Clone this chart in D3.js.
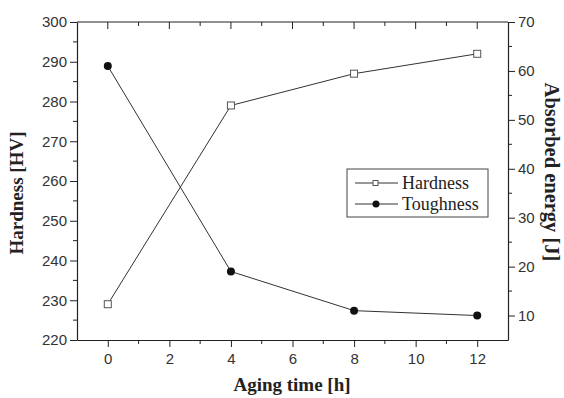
<!DOCTYPE html>
<html>
<head>
<meta charset="utf-8">
<script src="https://cdn.jsdelivr.net/npm/d3@7"></script>
<style>
  body { margin: 0; background: #fff; }
  svg { display: block; }
  .tick text { font-family: "Liberation Sans", Arial, sans-serif; font-size: 15px; fill: #333; }
  .title { font-family: "Liberation Serif", "Times New Roman", serif; font-weight: bold; font-size: 19px; fill: #222; }
  .leg { font-family: "Liberation Serif", "Times New Roman", serif; font-size: 18px; fill: #222; }
</style>
</head>
<body>
<svg width="564" height="398"></svg>
<script>
// data
var agingTime = [0, 4, 8, 12];
var hardness  = [229, 279, 287, 292];
var toughness = [61, 19, 11, 10];
var xTicks = [0, 2, 4, 6, 8, 10, 12];

var svg = d3.select("svg");
var pLeft = 77, pRight = 508, pTop = 22, pBottom = 340;

var x = d3.scaleLinear().domain([-1, 13]).range([pLeft, pRight]);
var yL = d3.scaleLinear().domain([220, 300]).range([pBottom, pTop]);
var yR = d3.scaleLinear().domain([5, 70]).range([pBottom, pTop]);

// minor ticks first
var minor = svg.append("g").attr("stroke", "#222").attr("stroke-width", 1);
d3.range(0, 13, 1).forEach(function(v) {
  var big = v % 2 == 0;
  minor.append("line").attr("x1", x(v)).attr("x2", x(v))
    .attr("y1", pBottom).attr("y2", pBottom + (big ? 0 : 4));
  minor.append("line").attr("x1", x(v)).attr("x2", x(v))
    .attr("y1", pTop).attr("y2", pTop + (big ? 7 : 4));
});
d3.range(225, 300, 10).forEach(function(v) {
  minor.append("line").attr("x1", pLeft - 4).attr("x2", pLeft)
    .attr("y1", yL(v)).attr("y2", yL(v));
});
d3.range(15, 70, 10).forEach(function(v) {
  minor.append("line").attr("x1", pRight).attr("x2", pRight + 4)
    .attr("y1", yR(v)).attr("y2", yR(v));
});

svg.append("g").attr("transform", "translate(0," + pBottom + ")")
  .call(d3.axisBottom(x).tickValues(xTicks).tickSize(7).tickPadding(6).tickSizeOuter(0));
svg.append("g").attr("transform", "translate(" + pLeft + ",0)")
  .call(d3.axisLeft(yL).ticks(8).tickSize(7).tickPadding(3).tickSizeOuter(0));
svg.append("g").attr("transform", "translate(" + pRight + ",0)")
  .call(d3.axisRight(yR).tickValues([10, 20, 30, 40, 50, 60, 70]).tickSize(7).tickPadding(3).tickSizeOuter(0));
svg.append("line").attr("x1", pLeft).attr("x2", pRight).attr("y1", pTop).attr("y2", pTop)
  .attr("stroke", "#222").attr("stroke-width", 1.2);
svg.selectAll(".domain").attr("stroke", "#222").attr("stroke-width", 1.2);
svg.selectAll(".tick line").attr("stroke", "#222");

// hardness
svg.append("path").datum(agingTime)
  .attr("fill", "none").attr("stroke", "#333").attr("stroke-width", 1)
  .attr("d", d3.line().x(function(d) { return x(d); }).y(function(d, i) { return yL(hardness[i]); }));
svg.selectAll(".sq").data(agingTime).enter().append("rect")
  .attr("x", function(d) { return x(d) - 3.5; })
  .attr("y", function(d, i) { return yL(hardness[i]) - 3.5; })
  .attr("width", 7).attr("height", 7)
  .attr("fill", "#fff").attr("stroke", "#555").attr("stroke-width", 1);

// toughness
svg.append("path").datum(agingTime)
  .attr("fill", "none").attr("stroke", "#333").attr("stroke-width", 1)
  .attr("d", d3.line().x(function(d) { return x(d); }).y(function(d, i) { return yR(toughness[i]); }));
svg.selectAll(".dot").data(agingTime).enter().append("circle")
  .attr("cx", function(d) { return x(d); })
  .attr("cy", function(d, i) { return yR(toughness[i]); })
  .attr("r", 4).attr("fill", "#111");

// titles
svg.append("text").attr("class", "title").attr("text-anchor", "middle")
  .attr("x", 292).attr("y", 391).text("Aging time [h]");
svg.append("text").attr("class", "title").attr("text-anchor", "middle")
  .attr("transform", "translate(23,193) rotate(-90)").text("Hardness [HV]");
svg.append("text").attr("class", "title").attr("text-anchor", "middle")
  .style("font-size", "20.5px")
  .attr("transform", "translate(545,172) rotate(90)").text("Absorbed energy [J]");

// legend
var lg = svg.append("g");
lg.append("rect").attr("x", 347).attr("y", 169).attr("width", 141).attr("height", 48)
  .attr("fill", "#fff").attr("stroke", "#444");
[["Hardness", 183], ["Toughness", 204]].forEach(function(r, i) {
  lg.append("line").attr("x1", 355).attr("x2", 398).attr("y1", r[1]).attr("y2", r[1])
    .attr("stroke", "#333");
  if (i == 0) {
    lg.append("rect").attr("x", 373).attr("y", r[1] - 2.5).attr("width", 5).attr("height", 5)
      .attr("fill", "#fff").attr("stroke", "#555");
  } else {
    lg.append("circle").attr("cx", 376).attr("cy", r[1]).attr("r", 3.5).attr("fill", "#111");
  }
  lg.append("text").attr("class", "leg").attr("x", 402).attr("y", r[1] + 6).text(r[0]);
});
</script>
</body>
</html>
